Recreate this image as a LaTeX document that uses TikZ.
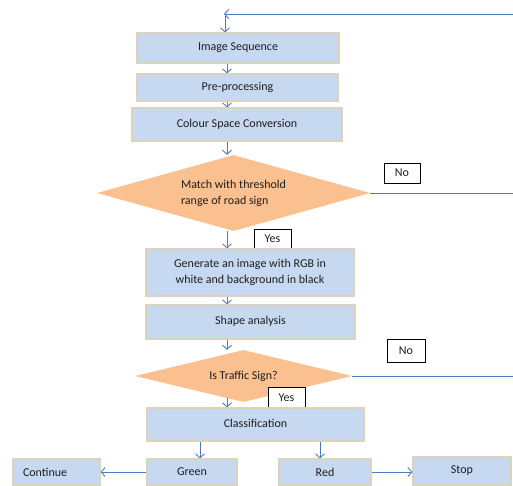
\documentclass[tikz,border=0pt]{standalone}
\usepackage{fontspec}
\setmainfont{Carlito}
\usetikzlibrary{shapes.geometric,arrows.meta}
\definecolor{boxfill}{HTML}{C6D9F1}
\definecolor{boxedge}{HTML}{DCD3BC}
\definecolor{diafill}{HTML}{FAC090}
\definecolor{arrcol}{HTML}{4A7EBB}
\definecolor{txt}{HTML}{1E1E1E}
\begin{document}
\begin{tikzpicture}[x=1pt,y=-1pt,
  box/.style={rectangle,fill=boxfill,draw=boxedge,line width=1.2pt,inner sep=0pt,
    font=\fontsize{12}{16}\selectfont,text=txt,align=center},
  dia/.style={diamond,fill=diafill,draw=none,inner sep=0pt,
    font=\fontsize{12}{16}\selectfont,text=txt,align=left},
  lab/.style={rectangle,draw=black,fill=white,line width=0.8pt,inner sep=0pt,
    font=\fontsize{12}{15}\selectfont,text=txt},
  arr/.style={draw=arrcol,line width=0.9pt,-{Straight Barb[length=4pt,width=9pt]}},
  ln/.style={draw=arrcol,line width=0.9pt}]
\useasboundingbox[fill=white] (0,0) rectangle (513,485);

\node[box,minimum width=202pt,minimum height=30pt] (img) at (238,48) {Image Sequence};
\node[box,minimum width=201pt,minimum height=27pt] (pre) at (237.5,87.5) {Pre-processing};
\node[box,minimum width=210pt,minimum height=33pt] (csc) at (237,124.5) {Colour Space Conversion};
\node[dia,aspect=3.59,minimum width=273pt,minimum height=76pt] (d1) at (233.5,193) {Match with threshold\\range of road sign};
\node[lab,minimum width=36pt,minimum height=20pt] (no1) at (402,173) {No};
\node[lab,minimum width=37pt,minimum height=20pt] (yes1) at (272.5,239) {Yes};
\node[box,minimum width=208pt,minimum height=47pt] (gen) at (250,272.5) {Generate an image with RGB in\\white and background in black};
\node[box,minimum width=209pt,minimum height=34pt] (shp) at (250.5,322) {\raisebox{3pt}{Shape analysis}};
\node[lab,minimum width=38pt,minimum height=23pt] (no2) at (406,350.5) {No};
\node[dia,aspect=4.17,minimum width=217pt,minimum height=52pt] (d2) at (243.5,376) {Is Traffic Sign?};
\node[lab,minimum width=37pt,minimum height=21pt] (yes2) at (286.5,397.5) {Yes};
\node[box,minimum width=217pt,minimum height=33pt] (cls) at (255.5,424.5) {\raisebox{2pt}{Classification}};
\node[box,minimum width=90pt,minimum height=26pt] (grn) at (192,472) {Green};
\node[box,text width=67pt,inner xsep=10pt,align=left,minimum height=26pt] (cont) at (56.5,472) {Continue};
\node[box,minimum width=92pt,minimum height=26pt] (red) at (325,472) {Red};
\node[box,minimum width=98pt,minimum height=28pt] (stop) at (462,471) {Stop};

\coordinate (a0) at (225,16);
\coordinate (a) at (227,0);
\coordinate (tl) at (224,14);
\coordinate (tr) at (513,14);
\coordinate (re) at (513,0);
\coordinate (g) at (200,0);
\coordinate (rr) at (320,0);

\draw[arr] (tr) -- (tl);
\draw[arr] (a0) -- (img.north -| a0);
\draw[arr] (img.south -| a) -- (pre.north -| a);
\draw[arr] (pre.south -| a) -- (csc.north -| a);
\draw[arr] (csc.south -| a) -- (d1.north -| a);
\draw[arr] (d1.south -| a) -- (gen.north -| a);
\draw[arr] (gen.south -| a) -- (shp.north -| a);
\draw[arr] (shp.south -| a) -- (d2.north -| a);
\draw[arr] ([yshift=4pt]d2.south -| a) -- (cls.north -| a);
\draw[arr] (cls.south -| g) -- (grn.north -| g);
\draw[arr] (cls.south -| rr) -- (red.north -| rr);
\draw[arr] (grn.west) -- (cont.east);
\draw[arr] (red.east) -- (stop.west |- red.east);
\draw[ln] (d1.east) -- (d1.east -| re);
\draw[ln] (d2.east) -- (d2.east -| re);
\end{tikzpicture}
\end{document}
